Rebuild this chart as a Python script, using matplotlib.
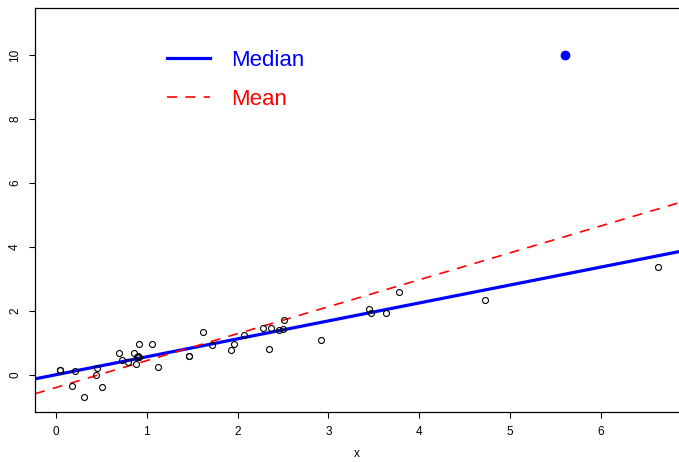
import matplotlib
matplotlib.use("Agg")
import matplotlib.pyplot as plt

plt.rcParams['font.family'] = ['Liberation Sans', 'DejaVu Sans']

# data points (x, y)
x_pts = [0.04, 0.05, 0.21, 0.18, 0.31, 0.45, 0.44, 0.51, 0.70, 0.73, 0.79,
         0.86, 0.91, 1.06, 0.89, 0.90, 0.92, 0.88, 1.12, 1.46, 1.47, 1.62,
         1.72, 1.93, 1.96, 2.07, 2.28, 2.35, 2.37, 2.46, 2.50, 2.51, 2.92,
         3.45, 3.47, 3.63, 3.78, 4.72, 6.63]
y_pts = [0.16, 0.14, 0.12, -0.34, -0.69, 0.22, 0.00, -0.37, 0.69, 0.47, 0.41,
         0.69, 0.97, 0.97, 0.57, 0.59, 0.56, 0.34, 0.25, 0.59, 0.60, 1.34,
         0.94, 0.78, 0.98, 1.24, 1.47, 0.81, 1.48, 1.41, 1.43, 1.71, 1.09,
         2.06, 1.93, 1.94, 2.59, 2.35, 3.38]
outlier_x = [5.61]
outlier_y = [10.0]

# fitted lines: (intercept, slope)
median_fit = (0.005, 0.561)
mean_fit = (-0.395, 0.842)

x_ticks = [0, 1, 2, 3, 4, 5, 6]
y_ticks = [0, 2, 4, 6, 8, 10]

fig = plt.figure(figsize=(6.79, 4.62), dpi=100)
ax = fig.add_axes([35/679, 50/462, 1 - 35/679, (412-8)/462])

ax.plot(x_pts, y_pts, 'o', mfc='none', mec='black', ms=4.3, mew=0.8, zorder=3)
ax.plot(outlier_x, outlier_y, 'o', color='blue', ms=6, zorder=3)

ax.axline((0, median_fit[0]), slope=median_fit[1], color='blue', lw=2.3,
          label='Median', zorder=2)
ax.axline((0, mean_fit[0]), slope=mean_fit[1], color='red', lw=1.2,
          dashes=(6, 5), label='Mean', zorder=2)

ax.set_xlim(-0.23, 6.86)
ax.set_ylim(-1.16, 11.47)
ax.set_xticks(x_ticks)
ax.set_yticks(y_ticks)
ax.tick_params(direction='out', length=4, width=0.8, labelsize=8.5, pad=6)
for lab in ax.get_yticklabels():
    lab.set_rotation(90)
    lab.set_va('center')
ax.spines['right'].set_visible(False)
for s in ['left', 'bottom', 'top']:
    ax.spines[s].set_linewidth(0.9)
ax.set_xlabel('x', fontsize=8.5, labelpad=7)

leg = ax.legend(loc='upper left', bbox_to_anchor=(167/679, 1 - 50/462),
                bbox_transform=fig.transFigure, frameon=False, fontsize=16,
                handlelength=1.95, handletextpad=0.95, labelspacing=0.8,
                borderpad=0, borderaxespad=0, labelcolor='linecolor')

fig.savefig('out.png', dpi=100)
